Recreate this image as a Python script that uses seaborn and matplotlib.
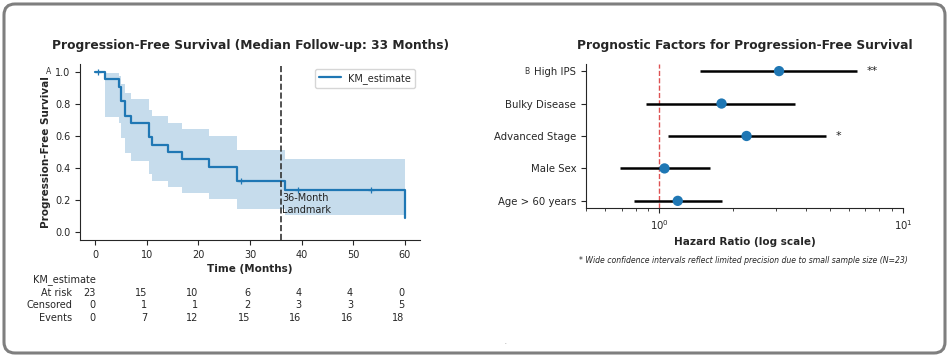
import numpy as np
import matplotlib
matplotlib.use("Agg")
import matplotlib.pyplot as plt
import matplotlib.transforms as mtransforms
from matplotlib.patches import FancyBboxPatch
import seaborn as sns

# Kaplan-Meier estimate
km_times = [0, 1.9, 4.5, 5.0, 5.8, 6.9, 10.4, 11.0, 14.0, 16.8, 22.1, 27.5, 36.8, 60]
km_surv = [1.0, 0.955, 0.909, 0.818, 0.727, 0.682, 0.591, 0.545, 0.500, 0.455, 0.409, 0.318, 0.265, 0.088]
km_lower = [1.0, 0.719, 0.683, 0.585, 0.491, 0.446, 0.361, 0.321, 0.282, 0.244, 0.209, 0.142, 0.104, 0.007]
km_upper = [1.0, 0.993, 0.976, 0.928, 0.867, 0.834, 0.762, 0.724, 0.684, 0.643, 0.601, 0.511, 0.459, 0.308]
censor_times = [0.5, 28.3, 39.4, 53.4]
censor_surv = [1.0, 0.318, 0.265, 0.265]

# at-risk table
table_times = [0, 10, 20, 30, 40, 50, 60]
at_risk = [23, 15, 10, 6, 4, 4, 0]
censored = [0, 1, 1, 2, 3, 3, 5]
events = [0, 7, 12, 15, 16, 16, 18]

# forest plot
factors = ["High IPS", "Bulky Disease", "Advanced Stage", "Male Sex", "Age > 60 years"]
hazard_ratio = [3.10, 1.80, 2.28, 1.05, 1.19]
hr_low = [1.47, 0.88, 1.09, 0.69, 0.79]
hr_high = [6.45, 3.60, 4.82, 1.61, 1.81]
significance = ["**", "", "*", "", ""]

sns.set_style("ticks")
plt.rcParams["font.family"] = ["DejaVu Sans"]

fig = plt.figure(figsize=(9.49, 3.57), dpi=100)
ax1 = fig.add_axes([0.0843, 0.3277, 0.3583, 0.4930])
ax2 = fig.add_axes([0.6175, 0.4174, 0.3340, 0.4034])

blue = "#1f77b4"

# ---------------------------
# A. Kaplan-Meier curve
# ---------------------------
ax1.fill_between(km_times, km_lower, km_upper, step="post", color=blue, alpha=0.25, lw=0)
sns.lineplot(x=km_times, y=km_surv, drawstyle="steps-post", color=blue, lw=1.6,
             label="KM_estimate", ax=ax1)
ax1.plot(censor_times, censor_surv, ls="none", marker="+", ms=5, mew=0.9, color=blue)
ax1.axvline(36, color="#333333", ls="--", lw=1.2)
ax1.text(36.2, 0.175, "36-Month\nLandmark", fontsize=7, va="center", ha="left", color="#222222")

ax1.set_xlim(-3, 63)
ax1.set_ylim(-0.05, 1.05)
ax1.set_xticks(table_times)
ax1.set_yticks([0.0, 0.2, 0.4, 0.6, 0.8, 1.0])
ax1.tick_params(labelsize=7, length=3.5)
ax1.set_title("Progression-Free Survival (Median Follow-up: 33 Months)",
              fontsize=8.8, fontweight="bold", pad=11)
ax1.set_xlabel("Time (Months)", fontsize=7.5, fontweight="bold", labelpad=3)
ax1.set_ylabel("Progression-Free Survival", fontsize=7.5, fontweight="bold", labelpad=3)
ax1.legend(loc="upper right", fontsize=7, frameon=True, handlelength=2.2)
sns.despine(ax=ax1)

# at-risk table under the axis
trans = mtransforms.blended_transform_factory(ax1.transData, ax1.transAxes)
rows = [("At risk", at_risk), ("Censored", censored), ("Events", events)]
row_y = [-0.301, -0.371, -0.443]
ax1.text(0, -0.227, "KM_estimate", transform=trans, ha="right", va="center", fontsize=7,
         clip_on=False)
for (name, vals), yy in zip(rows, row_y):
    ax1.text(-4.5, yy, name, transform=trans, ha="right", va="center", fontsize=7, clip_on=False)
    for t, v in zip(table_times, vals):
        ax1.text(t, yy, str(v), transform=trans, ha="right", va="center", fontsize=7,
                 clip_on=False)

# ---------------------------
# B. Forest plot
# ---------------------------
ax2.hlines(factors, hr_low, hr_high, color="black", lw=1.8, zorder=1)
sns.scatterplot(x=hazard_ratio, y=factors, color=blue, s=55, edgecolor="none", zorder=3, ax=ax2)
ax2.axvline(1, color="#d62728", ls="--", lw=1, alpha=0.8, zorder=0)
for f, hi, sig in zip(factors, hr_high, significance):
    if sig:
        ax2.text(hi * 1.1, f, sig, fontsize=8, va="center", ha="left", color="#222222")

ax2.set_xscale("log")
ax2.set_xlim(0.5, 10)
ax2.set_ylim(4.22, -0.22)
ax2.tick_params(labelsize=7.3, length=3.5)
ax2.set_title("Prognostic Factors for Progression-Free Survival", fontsize=8.8,
              fontweight="bold", pad=11)
ax2.set_xlabel("Hazard Ratio (log scale)", fontsize=7.5, fontweight="bold", labelpad=4)
ax2.set_ylabel("")
sns.despine(ax=ax2)

fig.text(0.783, 0.269, "* Wide confidence intervals reflect limited precision due to small sample size (N=23)",
         fontsize=5.6, style="italic", ha="center", va="center")

# small panel letters
fig.text(49 / 949, 1 - 71 / 357, "A", fontsize=5.5, ha="center", va="center", color="#333333")
fig.text(527 / 949, 1 - 72 / 357, "B", fontsize=5.5, ha="center", va="center", color="#333333")
fig.text(505 / 949, 1 - 342 / 357, ".", fontsize=4, ha="center", va="center", color="#555555")

# rounded grey frame
frame = FancyBboxPatch((4, 4), 941, 349, boxstyle="round,pad=0,rounding_size=11",
                       transform=None, fc="none", ec="#7f7f7f", lw=2.2)
fig.patches.append(frame)

fig.savefig("out.png", dpi=100)
